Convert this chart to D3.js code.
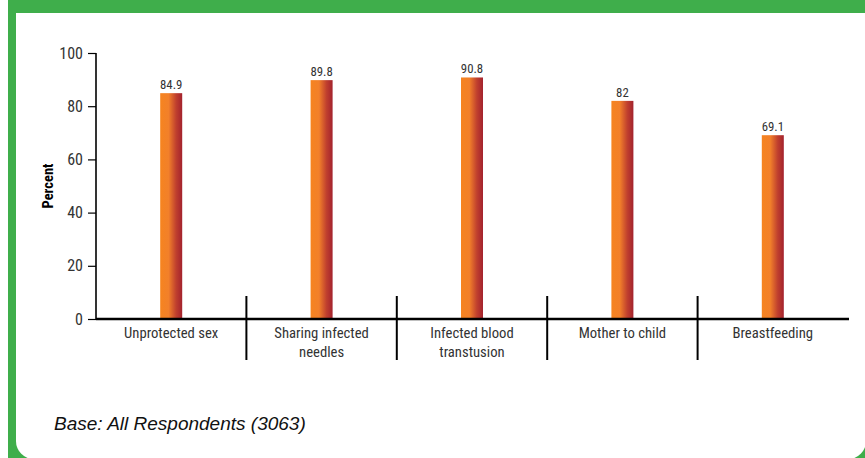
<!DOCTYPE html>
<html>
<head>
<meta charset="utf-8">
<script src="https://cdn.jsdelivr.net/npm/d3@7"></script>
<style>
  html, body { margin: 0; padding: 0; background: #fff; }
  svg { display: block; }
  .narrow { font-family: "Roboto Condensed", "Liberation Sans Narrow", "DejaVu Sans Condensed", sans-serif; }
</style>
</head>
<body>
<svg id="chart" width="865" height="458"></svg>
<script>
"use strict";

// données
var categories = ["Unprotected sex", "Sharing infected needles", "Infected blood transtusion", "Mother to child", "Breastfeeding"];
var labelLines = [["Unprotected sex"], ["Sharing infected", "needles"], ["Infected blood", "transtusion"], ["Mother to child"], ["Breastfeeding"]];
var values = [84.9, 89.8, 90.8, 82, 69.1];
var valueLabels = ["84.9", "89.8", "90.8", "82", "69.1"];
var yTicks = [0, 20, 40, 60, 80, 100];

var svg = d3.select("#chart");

// cadre vert + panneau blanc (coins bas arrondis)
svg.append("rect")
  .attr("x", 8).attr("y", 0)
  .attr("width", 860).attr("height", 460)
  .attr("fill", "#3fae4b");

var r = 18;
var px0 = 16, py0 = 13, px1 = 866, py1 = 459;
svg.append("path")
  .attr("d", "M" + px0 + "," + py0 + "H" + px1 + "V" + (py1 - r) +
    "A" + r + "," + r + " 0 0 1 " + (px1 - r) + "," + py1 +
    "H" + (px0 + r) +
    "A" + r + "," + r + " 0 0 1 " + px0 + "," + (py1 - r) + "Z")
  .attr("fill", "#fff");

var defs = svg.append("defs");
var grad = defs.append("linearGradient")
  .attr("id", "barGrad")
  .attr("x1", "0%").attr("x2", "100%")
  .attr("y1", "0%").attr("y2", "0%");
grad.append("stop").attr("offset", "0%").attr("stop-color", "#f6841f");
grad.append("stop").attr("offset", "38%").attr("stop-color", "#f2802a");
grad.append("stop").attr("offset", "72%").attr("stop-color", "#c0402e");
grad.append("stop").attr("offset", "100%").attr("stop-color", "#a3222e");

var x = d3.scaleBand()
  .domain(categories)
  .range([96, 848]);

var y = d3.scaleLinear()
  .domain([0, 100])
  .range([319, 53]);

var barWidth = 22;

// axe Y
var yAxis = svg.append("g")
  .attr("class", "narrow")
  .attr("transform", "translate(96,0)")
  .call(d3.axisLeft(y).tickValues(yTicks).tickSize(8).tickPadding(5));
yAxis.select(".domain")
  .attr("stroke", "#000").attr("stroke-width", 1.6)
  .attr("d", "M0," + y(100) + "V" + y(0));
yAxis.selectAll(".tick line").attr("stroke", "#000").attr("stroke-width", 1.2);
yAxis.selectAll(".tick text")
  .attr("fill", "#333")
  .style("font-size", "16px");

// barres
svg.append("g")
  .selectAll("rect")
  .data(values)
  .enter()
  .append("rect")
    .attr("x", function(d, i) { return x(categories[i]) + x.bandwidth() / 2 - barWidth / 2 })
    .attr("y", function(d) { return y(d) })
    .attr("width", barWidth)
    .attr("height", function(d) { return y(0) - y(d) })
    .attr("fill", "url(#barGrad)");

// étiquettes de valeurs
svg.append("g")
  .attr("class", "narrow")
  .selectAll("text")
  .data(values)
  .enter()
  .append("text")
    .attr("x", function(d, i) { return x(categories[i]) + x.bandwidth() / 2 })
    .attr("y", function(d) { return y(d) - 4 })
    .attr("text-anchor", "middle")
    .attr("fill", "#333")
    .style("font-size", "12.8px")
    .text(function(d, i) { return valueLabels[i] });

// axe X
svg.append("line")
  .attr("x1", 96).attr("x2", 849)
  .attr("y1", y(0)).attr("y2", y(0))
  .attr("stroke", "#000").attr("stroke-width", 2.4);

// séparateurs entre catégories
svg.append("g")
  .selectAll("line")
  .data(categories.slice(1))
  .enter()
  .append("line")
    .attr("x1", function(d) { return x(d) })
    .attr("x2", function(d) { return x(d) })
    .attr("y1", 296).attr("y2", 360)
    .attr("stroke", "#000").attr("stroke-width", 2);

// libellés des catégories
var catLabels = svg.append("g")
  .attr("class", "narrow")
  .selectAll("text")
  .data(categories)
  .enter()
  .append("text")
    .attr("x", function(d) { return x(d) + x.bandwidth() / 2 })
    .attr("y", 338)
    .attr("text-anchor", "middle")
    .attr("fill", "#333")
    .style("font-size", "14.7px");

catLabels.selectAll("tspan")
  .data(function(d, i) { return labelLines[i] })
  .enter()
  .append("tspan")
    .attr("x", function() { return d3.select(this.parentNode).attr("x") })
    .attr("dy", function(d, j) { return j === 0 ? 0 : 18.5 })
    .text(function(d) { return d });

// titre de l'axe Y
svg.append("text")
  .attr("class", "narrow")
  .attr("transform", "translate(53," + ((y(0) + y(100)) / 2) + ") rotate(-90)")
  .attr("text-anchor", "middle")
  .attr("fill", "#000")
  .style("font-size", "14.5px")
  .style("font-weight", "bold")
  .text("Percent");

// note de bas de page
svg.append("text")
  .attr("x", 54).attr("y", 430)
  .attr("fill", "#111")
  .style("font-family", "'Liberation Sans', Arial, sans-serif")
  .style("font-style", "italic")
  .style("font-size", "19px")
  .text("Base: All Respondents (3063)");
</script>
</body>
</html>
